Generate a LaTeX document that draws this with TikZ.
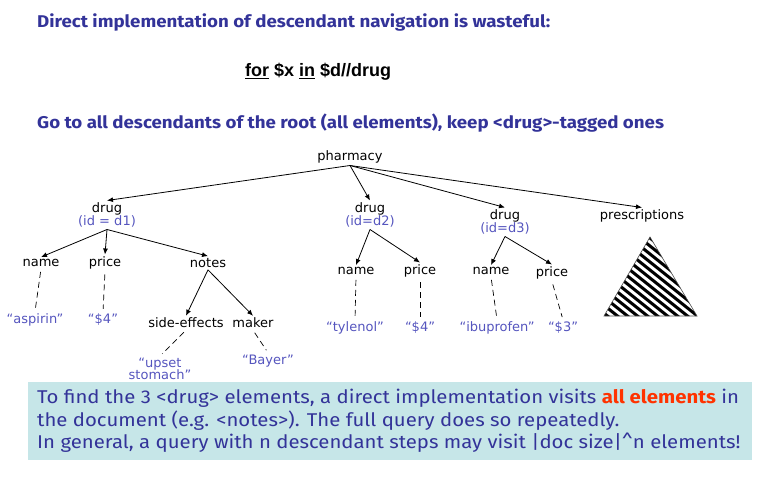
\documentclass[tikz,border=0pt]{standalone}
\usepackage{fontspec}
\usetikzlibrary{arrows.meta}
\newfontfamily\treefont{DejaVu Sans}
\newfontfamily\casualfont[FakeStretch=1.1]{Fira Sans}
\newfontfamily\codefont{Liberation Sans}
\definecolor{headblue}{RGB}{51,51,153}
\definecolor{attrblue}{RGB}{85,85,190}
\definecolor{notefill}{RGB}{198,230,232}
\definecolor{hotred}{RGB}{255,51,0}
\begin{document}
\begin{tikzpicture}[x=1pt,y=-1pt,
  tn/.style={font=\treefont\fontsize{13}{15}\selectfont, inner sep=2pt, text=black},
  val/.style={font=\treefont\fontsize{13}{15}\selectfont, inner sep=2pt, text=attrblue, align=center},
  elem/.style={font=\treefont\fontsize{13}{15}\selectfont, inner sep=2pt, align=center},
  edge/.style={draw=black, line width=0.8pt, -{Latex[length=6pt,width=5pt]}},
  textlink/.style={draw=black, line width=0.7pt, dash pattern=on 6pt off 4pt, shorten <=3pt, shorten >=3pt},
  heading/.style={font=\casualfont\bfseries\fontsize{17}{20}\selectfont, text=headblue, anchor=west, inner sep=0pt},
  body/.style={font=\casualfont\fontsize{18.5}{22}\selectfont, text=headblue, anchor=west, inner sep=0pt}
]
\useasboundingbox (0,0) rectangle (778,482);

% headings
\node[heading] (h1) at (37,22) {Direct implementation of descendant navigation is wasteful:};
\node[font=\codefont\bfseries\fontsize{18}{21}\selectfont, anchor=west, inner sep=0pt] (query) at (245,72) {\underline{for} \$x \underline{in} \$d//drug};
\node[heading] (h2) at (37,123) {Go to all descendants of the root (all elements), keep <drug>-tagged ones};

% document tree
\node[tn] (pharm) at (350,157) {pharmacy};
\node[elem] (drugA) at (107,215) {drug\\[-2pt]\textcolor{attrblue}{(id = d1)}};
\node[elem] (drugB) at (370,215) {drug\\[-2pt]\textcolor{attrblue}{(id=d2)}};
\node[elem] (drugC) at (505,222) {drug\\[-2pt]\textcolor{attrblue}{(id=d3)}};
\node[tn] (presc) at (642,216) {prescriptions};

\node[tn] (nameA) at (41,263) {name};
\node[tn] (priceA) at (105,263) {price};
\node[tn] (notes) at (208,263) {notes};
\node[val] (aspirin) at (35,320) {“aspirin”};
\node[val] (costA) at (103,320) {“\$4”};
\node[tn] (side) at (186,323) {side-effects};
\node[tn] (maker) at (253,323) {maker};
\node[val] (upset) at (160,369) {“upset\\[-3pt]stomach”};
\node[val] (bayer) at (268,361) {“Bayer”};

\node[tn] (nameB) at (356,271) {name};
\node[tn] (priceB) at (420,271) {price};
\node[val] (tylenol) at (355,328) {“tylenol”};
\node[val] (costB) at (420,328) {“\$4”};

\node[tn] (nameC) at (491,271) {name};
\node[tn] (priceC) at (552,273) {price};
\node[val] (ibu) at (497,328) {“ibuprofen”};
\node[val] (costC) at (563,328) {“\$3”};

% parent-child edges
\foreach \c in {drugA,drugB,drugC,presc}
  \draw[edge] (pharm.south) -- (\c.north);
\foreach \c in {nameA,priceA,notes}
  \draw[edge] (drugA.south) -- (\c.north);
\foreach \c in {side,maker}
  \draw[edge] (notes.south) -- (\c.north);
\foreach \c in {nameB,priceB}
  \draw[edge] (drugB.south) -- (\c.north);
\foreach \c in {nameC,priceC}
  \draw[edge] (drugC.south) -- (\c.north);

% text content links
\draw[textlink] (nameA.south) -- (aspirin.north);
\draw[textlink] (priceA.south) -- (costA.north);
\draw[textlink] (side.south) -- (upset.north);
\draw[textlink] (maker.south) -- (bayer.north);
\draw[textlink] (nameB.south) -- (tylenol.north);
\draw[textlink] (priceB.south) -- (costB.north);
\draw[textlink] (nameC.south) -- (ibu.north);
\draw[textlink] (priceC.south) -- (costC.north);

% hatched subtree of prescriptions
\coordinate (tApex) at (650,237);
\coordinate (tLeft) at (604,316);
\coordinate (tRight) at (697,316);
\begin{scope}
  \clip (tApex) -- (tLeft) -- (tRight) -- cycle;
  \foreach \k in {-290,-282,...,-160}
    \draw[line width=3pt] (580,\k+464) -- (720,\k+576);
\end{scope}
\draw[line width=0.6pt, draw=black!70] (tApex) -- (tLeft) -- (tRight) -- cycle;

% note box
\fill[notefill] (28,382) rectangle (752,460);
\node[body] (l1) at (37,398) {To find the 3 <drug> elements, a direct implementation visits \textcolor{hotred}{\bfseries all elements} in};
\node[body] (l2) at (37,421) {the document (e.g. <notes>). The full query does so repeatedly.};
\node[body] (l3) at (37,443) {In general, a query with n descendant steps may visit |doc size|\^{}n elements!};
\end{tikzpicture}
\end{document}
